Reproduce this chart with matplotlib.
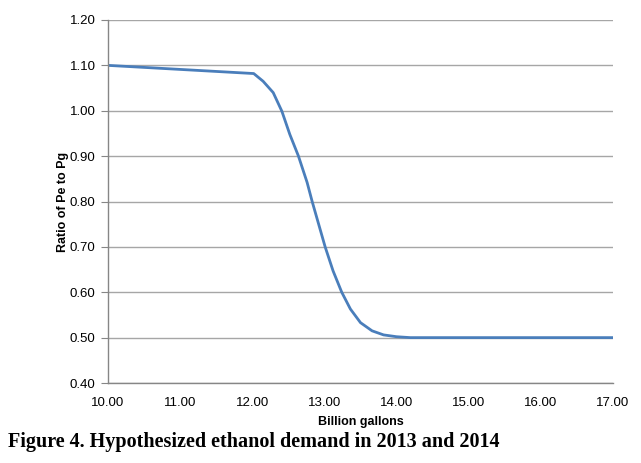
import matplotlib
matplotlib.use("Agg")
import matplotlib.pyplot as plt

# Data
x_vals = [10.00, 12.02, 12.15, 12.29, 12.41, 12.52, 12.64, 12.76, 12.83, 12.92,
          13.01, 13.12, 13.24, 13.36, 13.50, 13.66, 13.82, 14.00, 14.19, 15.00,
          16.00, 17.00]
y_vals = [1.100, 1.082, 1.065, 1.040, 0.999, 0.948, 0.900, 0.842, 0.800, 0.750,
          0.700, 0.647, 0.600, 0.563, 0.533, 0.515, 0.506, 0.502, 0.500, 0.500,
          0.500, 0.500]
x_ticks = [10, 11, 12, 13, 14, 15, 16, 17]
y_ticks = [0.40, 0.50, 0.60, 0.70, 0.80, 0.90, 1.00, 1.10, 1.20]

fig = plt.figure(figsize=(6.41, 4.63), dpi=100)
ax = fig.add_axes([108/641, 1 - 383/463, (613-108)/641, (383-20)/463])

ax.plot(x_vals, y_vals, color="#4a7ebb", linewidth=2.0, solid_capstyle="round",
        solid_joinstyle="round")

ax.set_xlim(10, 17)
ax.set_ylim(0.40, 1.20)
ax.set_xticks(x_ticks)
ax.set_yticks(y_ticks)
ax.set_xticklabels([f"{v:.2f}" for v in x_ticks], fontsize=9.5, family="Liberation Sans")
ax.set_yticklabels([f"{v:.2f}" for v in y_ticks], fontsize=9.5, family="Liberation Sans")

ax.grid(axis="y", color="#a6a6a6", linewidth=1.0)
ax.set_axisbelow(True)
for s in ["top", "right"]:
    ax.spines[s].set_visible(False)
for s in ["left", "bottom"]:
    ax.spines[s].set_color("#868686")
    ax.spines[s].set_linewidth(1.0)
ax.tick_params(axis="y", length=5, color="#868686", pad=4)
ax.tick_params(axis="x", length=0, pad=10)

ax.set_xlabel("Billion gallons", fontsize=9, fontweight="bold", family="Liberation Sans", labelpad=5)
ax.set_ylabel("Ratio of Pe to Pg", fontsize=9, fontweight="bold", family="Liberation Sans")
ax.yaxis.set_label_coords((69 - 108) / 505, 0.5)

fig.text(8/641, 1 - 442/463, "Figure 4. Hypothesized ethanol demand in 2013 and 2014",
         fontsize=14.5, fontweight="bold", family="Liberation Serif", va="center", ha="left")

fig.savefig("out.png", dpi=100)
